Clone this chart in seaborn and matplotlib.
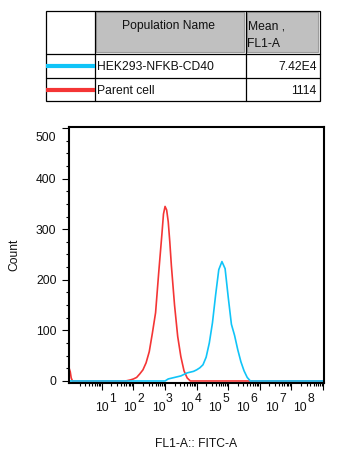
import numpy as np
import pandas as pd
import matplotlib
matplotlib.use("Agg")
import matplotlib.pyplot as plt
import matplotlib.ticker as mticker
from matplotlib.transforms import ScaledTranslation, blended_transform_factory
from matplotlib.patches import Rectangle
from matplotlib.lines import Line2D
import seaborn as sns

# ---------------- data ----------------
# log10(FL1-A) bin positions and counts
parent_log = [-0.04, 0.0, 0.03, 0.07, 1.75, 1.9, 2.0, 2.1, 2.2, 2.3, 2.4, 2.5, 2.6,
              2.7, 2.8, 2.9, 2.95, 3.0, 3.05, 3.1, 3.15, 3.2, 3.3, 3.4, 3.5, 3.6,
              3.7, 3.8, 8.03]
parent_count = [26, 18, 6, 0, 0, 2, 4, 7, 14, 22, 36, 58, 95,
                135, 215, 290, 330, 345, 338, 315, 275, 228, 150, 88, 48, 20,
                6, 0, 0]

cd40_log = [-0.04, 3.0, 3.1, 3.3, 3.5, 3.7, 3.9, 4.0, 4.1, 4.2, 4.3, 4.4, 4.5,
            4.6, 4.7, 4.8, 4.9, 5.0, 5.1, 5.2, 5.3, 5.4, 5.5, 5.6, 5.7, 8.03]
cd40_count = [0, 0, 4, 7, 10, 16, 19, 22, 26, 32, 47, 75, 115,
              170, 220, 236, 222, 165, 112, 90, 62, 38, 20, 7, 0, 0]

population_names = ["HEK293-NFKB-CD40", "Parent cell"]
mean_values = ["7.42E4", "1114"]
line_colors = ["#10c4f8", "#f43535"]

x_tick_exponents = [1, 2, 3, 4, 5, 6, 7, 8]
y_ticks = [0, 100, 200, 300, 400, 500]

# ---------------- style ----------------
sns.set_theme(style="white")
plt.rcParams['font.family'] = ['Liberation Sans', 'DejaVu Sans']

FS = 8.7
TXT = "#111111"
W, H = 352, 458
fig = plt.figure(figsize=(W / 100, H / 100), dpi=100)
fig.patch.set_facecolor("white")

ax = fig.add_axes([69 / W, 75 / H, 255 / W, 256 / H])

df = pd.concat([
    pd.DataFrame({"FL1": 10 ** np.array(parent_log), "Count": parent_count,
                  "Population": population_names[1]}),
    pd.DataFrame({"FL1": 10 ** np.array(cd40_log), "Count": cd40_count,
                  "Population": population_names[0]}),
], ignore_index=True)

sns.lineplot(data=df, x="FL1", y="Count", hue="Population",
             hue_order=[population_names[1], population_names[0]],
             palette={population_names[0]: line_colors[0],
                      population_names[1]: line_colors[1]},
             estimator=None, legend=False, linewidth=1.2, ax=ax)

ax.set_xscale("log")
ax.set_xlim(10 ** -0.04, 10 ** 8.03)
ax.set_ylim(-4, 502)

ax.xaxis.set_major_locator(mticker.FixedLocator([10.0 ** e for e in x_tick_exponents]))
ax.xaxis.set_major_formatter(mticker.FixedFormatter(["10"] * len(x_tick_exponents)))
ax.xaxis.set_minor_locator(mticker.LogLocator(base=10, subs=np.arange(2, 10), numticks=20))
ax.xaxis.set_minor_formatter(mticker.NullFormatter())

ax.set_yticks(y_ticks)
ax.set_yticklabels([str(v) for v in y_ticks])
ax.yaxis.set_minor_locator(mticker.MultipleLocator(25))

for s in ax.spines.values():
    s.set_color("black")
    s.set_linewidth(1.5)

ax.tick_params(axis="both", which="both", bottom=True, left=True, top=False, right=False,
               direction="out", color="black", width=0.8)
ax.tick_params(axis="both", which="major", length=5, labelsize=FS, labelcolor=TXT)
ax.tick_params(axis="both", which="minor", length=2.5)
ax.tick_params(axis="y", which="major", pad=4)
ax.tick_params(axis="x", which="major", pad=9)

# decade labels: "10" plus a raised exponent; the reference draws them drifting left
blend = blended_transform_factory(ax.transData, ax.transAxes)
for i, (lbl, e) in enumerate(zip(ax.get_xticklabels(), x_tick_exponents)):
    dx = -3.3 * i / 100
    lbl.set_transform(lbl.get_transform() + ScaledTranslation(dx, 0, fig.dpi_scale_trans))
    ax.text(10.0 ** e, 0, str(e), transform=blend + ScaledTranslation(dx + 7.5 / 100, -9.5 / 100, fig.dpi_scale_trans),
            ha="left", va="top", fontsize=FS, color=TXT)

ylbls = ax.get_yticklabels()
ylbls[-1].set_transform(ylbls[-1].get_transform() + ScaledTranslation(0, -8 / 100, fig.dpi_scale_trans))

ax.set_xlabel("FL1-A:: FITC-A", fontsize=FS, color=TXT)
ax.set_ylabel("Count", fontsize=FS, color=TXT)
ax.xaxis.set_label_coords(0.5, -0.215)
ax.yaxis.set_label_coords(-0.19, 0.5)

# ---------------- table ----------------
tab = fig.add_axes([0, 0, 1, 1], zorder=5)
tab.set_xlim(0, W)
tab.set_ylim(H, 0)
tab.axis("off")

L, C1, C2, R = 45.5, 94.5, 245.5, 319.5
T, R1, R2, B = 10.5, 53.5, 77.5, 100.5

tab.add_patch(Rectangle((C1 + 1.5, T + 1.5), C2 - C1 - 3, R1 - T - 3,
                        facecolor="#c0c0c0", edgecolor="#9c9c9c", linewidth=0.8))
tab.add_patch(Rectangle((C2 + 1.5, T + 1.5), R - C2 - 3, R1 - T - 3,
                        facecolor="#c0c0c0", edgecolor="#9c9c9c", linewidth=0.8))
tab.add_patch(Rectangle((L, T), R - L, B - T, facecolor="none",
                        edgecolor="black", linewidth=0.9))
for xx in (C1, C2):
    tab.add_line(Line2D([xx, xx], [T, B], color="black", linewidth=0.9))
for yy in (R1, R2):
    tab.add_line(Line2D([L, R], [yy, yy], color="black", linewidth=0.9))

tab.text((C1 + C2) / 2 - 2, 26.5, "Population Name", ha="center", va="center",
         fontsize=FS, color=TXT)
tab.text(C2 + 2, 26.5, "Mean ,", ha="left", va="center", fontsize=FS, color=TXT)
tab.text(C2 + 2, 44, "FL1-A", ha="left", va="center", fontsize=FS, color=TXT)

row_y = [66, 89.5]
text_y = [67, 91]
for name, mean, col, yy, ty in zip(population_names, mean_values, line_colors, row_y, text_y):
    tab.add_line(Line2D([L, C1], [yy, yy], color=col, linewidth=3, solid_capstyle="butt"))
    tab.text(C1 + 2.5, ty, name, ha="left", va="center", fontsize=FS, color=TXT)
    tab.text(R - 3, ty, mean, ha="right", va="center", fontsize=FS, color=TXT)

fig.savefig("out.png", dpi=100, facecolor="white")
